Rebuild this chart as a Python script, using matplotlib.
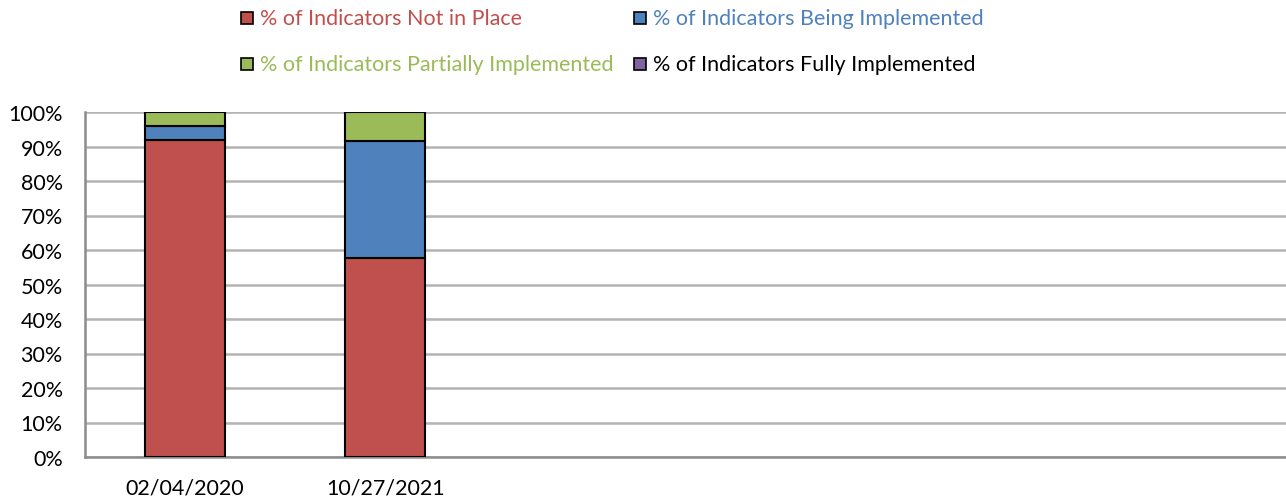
import matplotlib
matplotlib.use("Agg")
import matplotlib.pyplot as plt
import matplotlib.patches as patches
import numpy as np

plt.rcParams['font.family'] = ['Lato', 'DejaVu Sans']

# data (percent)
dates = ['02/04/2020', '10/27/2021', '', '', '', '']
not_in_place = [92.0, 57.7, 0, 0, 0, 0]
being_impl = [4.0, 33.8, 0, 0, 0, 0]
partially_impl = [4.0, 8.5, 0, 0, 0, 0]
fully_impl = [0, 0, 0, 0, 0, 0]

series_names = ['% of Indicators Not in Place', '% of Indicators Being Implemented',
                '% of Indicators Partially Implemented', '% of Indicators Fully Implemented']
colors = ['#C0504D', '#4F81BD', '#9BBB59', '#8064A2']
text_colors = ['#C0504D', '#4F81BD', '#9BBB59', '#000000']

fig = plt.figure(figsize=(12.86, 5.02), dpi=100)
ax = fig.add_axes([85 / 1286, 44 / 502, 1 - 85 / 1286, 345 / 502])

x = np.arange(len(dates))
bottom = np.zeros(len(dates))
for vals, col in zip([not_in_place, being_impl, partially_impl, fully_impl], colors):
    vals = np.array(vals, dtype=float)
    mask = vals > 0
    ax.bar(x[mask], vals[mask], 0.4, bottom=bottom[mask], color=col,
           edgecolor='black', linewidth=1.5, zorder=3)
    bottom += vals

ax.set_xlim(-0.5, len(dates) - 0.5)
ax.set_ylim(0, 100)
ax.set_yticks(np.arange(0, 101, 10))
ax.set_yticklabels([f'{v}%' for v in range(0, 101, 10)], fontsize=15.5)
ax.set_xticks(x)
ax.set_xticklabels(dates, fontsize=15.5)
ax.tick_params(axis='y', length=0, pad=16)
ax.tick_params(axis='x', length=0, pad=15)
ax.yaxis.grid(True, color='#B3B3B3', linewidth=1.8, zorder=0)
ax.set_axisbelow(True)
for side in ['top', 'right']:
    ax.spines[side].set_visible(False)
ax.spines['left'].set_color('#8C8C8C')
ax.spines['bottom'].set_color('#8C8C8C')
ax.spines['left'].set_linewidth(1.8)
ax.spines['bottom'].set_linewidth(1.8)

# legend, laid out in two rows like the source
legend_pos = [(241, 19), (634, 19), (241, 65), (634, 65)]
for (px, py), name, col, tcol in zip(legend_pos, series_names, colors, text_colors):
    sq = patches.Rectangle((px / 1286, 1 - (py + 6) / 502), 12 / 1286, 12 / 502,
                           transform=fig.transFigure, facecolor=col,
                           edgecolor='black', linewidth=1.2)
    fig.add_artist(sq)
    fig.text((px + 19) / 1286, 1 - py / 502, name, color=tcol, fontsize=15.5,
             va='center', ha='left')

fig.savefig('out.png', dpi=100)
